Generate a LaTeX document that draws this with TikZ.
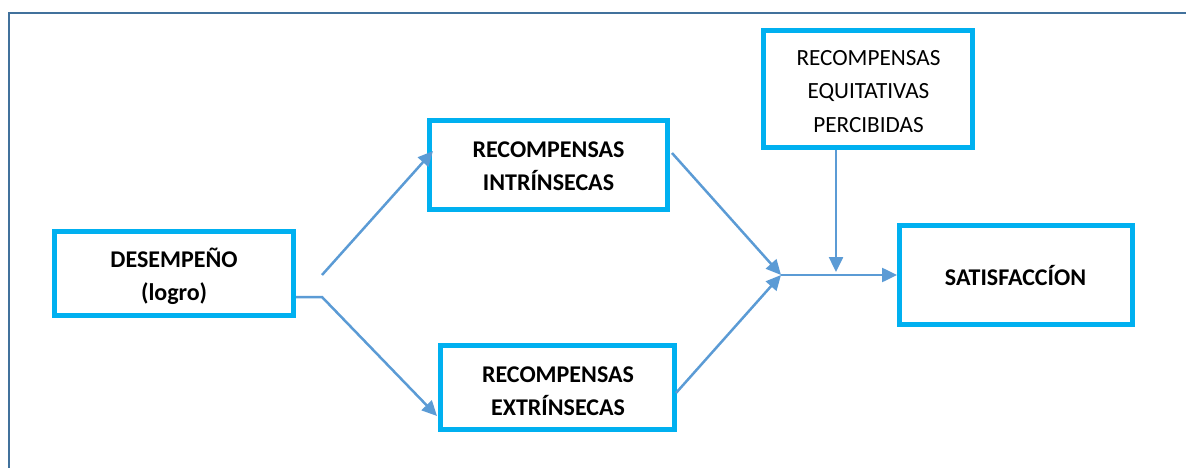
\documentclass[tikz,border=0pt]{standalone}
\usepackage{fontspec}
\setmainfont{Carlito}
\usetikzlibrary{arrows.meta}
\definecolor{boxc}{HTML}{00B0F0}
\definecolor{arrc}{HTML}{5B9BD5}
\definecolor{framec}{HTML}{41719C}
\begin{document}
\begin{tikzpicture}[x=1pt,y=-1pt,
  box/.style={draw=boxc, line width=5pt, rectangle, inner sep=0pt, fill=none},
  txtb/.style={font=\fontsize{24}{33}\selectfont\bfseries, align=center, inner sep=0pt},
  txtr/.style={font=\fontsize{23.2}{33.5}\selectfont, align=center, inner sep=0pt},
  conn/.style={draw=arrc, line width=2.5pt},
  tipend/.style={-{Triangle[length=15pt,width=14pt]}}]
\useasboundingbox (0,0) rectangle (1186,468);
\draw[framec, line width=2pt] (9,468) -- (9,13.5) -- (1186,13.5);

% boxes
\node[box, minimum width=239pt, minimum height=84pt] (des) at (174,273.5) {};
\node[box, minimum width=238pt, minimum height=89pt] (int) at (548.5,165) {};
\node[box, minimum width=234pt, minimum height=84pt] (ext) at (557.5,387.5) {};
\node[box, minimum width=209pt, minimum height=117pt] (equ) at (868,89) {};
\node[box, minimum width=233pt, minimum height=99pt] (sat) at (1016,275) {};

% texts
\node[txtb] (desT) at (174,276.5) {DESEMPEÑO\\(logro)};
\node[txtb] (intT) at (548.5,166) {RECOMPENSAS\\INTRÍNSECAS};
\node[txtb] (extT) at (558,391) {RECOMPENSAS\\EXTRÍNSECAS};
\node[txtr] (equT) at (868.5,91.5) {RECOMPENSAS\\EQUITATIVAS\\PERCIBIDAS};
\node[txtb] (satT) at (1015.5,276) {SATISFACCÍON};

% connector points
\coordinate (up0) at (322,275);
\coordinate (upT) at (433,151);
\coordinate (lo0) at (322,297);
\coordinate (loT) at (437,416);
\coordinate (i0) at (672,153);
\coordinate (x0) at (676,393);
\coordinate (m) at (781,275);
\coordinate (v) at (836,272);

\draw[conn,tipend] (up0) -- (upT);
\draw[conn,tipend] (des.east |- lo0) -- (lo0) -- (loT);
\draw[conn,tipend] (i0) -- (m);
\draw[conn,tipend] (x0) -- (m);
\draw[conn,tipend] (m) -- (sat.west);
\draw[conn,tipend] (v |- equ.south) -- (v);
\end{tikzpicture}
\end{document}
